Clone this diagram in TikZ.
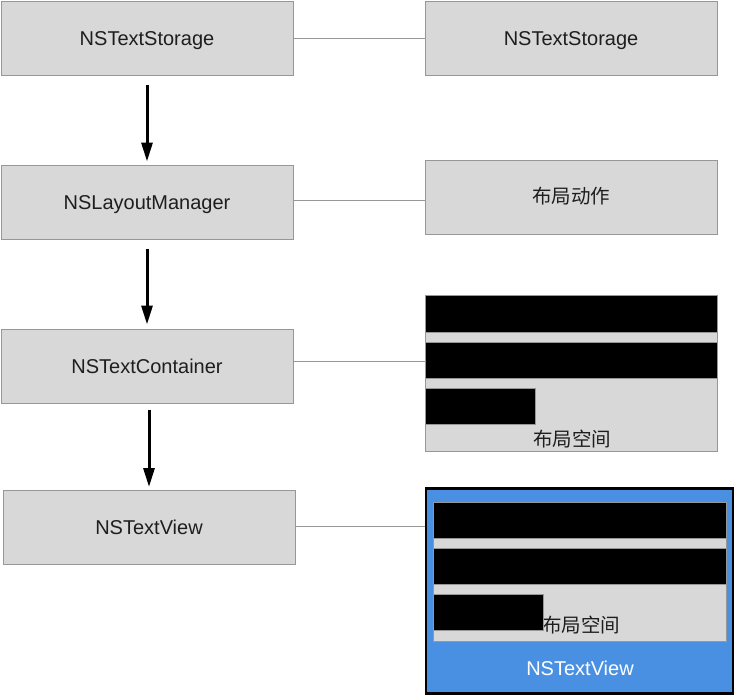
\documentclass[tikz,border=0pt]{standalone}
\usepackage{xcolor}
\usepackage{fontspec}
\setmainfont{Liberation Sans}
\newfontfamily\cjk{Noto Sans CJK SC}
\usepackage{tikz}
\usetikzlibrary{arrows.meta,positioning}

\definecolor{boxgray}{HTML}{D8D8D8}
\definecolor{linegray}{HTML}{979797}
\definecolor{viewblue}{HTML}{4A90E2}
\definecolor{textgray}{HTML}{1E1E1E}

\begin{document}
\begin{tikzpicture}[x=1pt, y=-1pt, >={Triangle[length=19pt,width=11pt]}, semithick,
    box/.style={draw=linegray, fill=boxgray, line width=1pt, minimum width=292pt, minimum height=74pt, inner sep=0pt, text=textgray, text height=14pt, text depth=0pt, font=\fontsize{20}{24}\selectfont},
    cjkbox/.style={box, text height=15pt, text depth=2pt, font=\cjk\fontsize{19.5}{24}\selectfont},
    bar/.style={draw=linegray, fill=black, line width=1pt},
    flow/.style={->, line width=3pt, shorten <=#1},
    link/.style={draw=linegray, line width=1pt}]
      \useasboundingbox (0,0) rectangle (735,697);

      % left column
      \node[box] (s0) at (147,38) {NSTextStorage};
      \node[box] (s1) at (147,202) {NSLayoutManager};
      \node[box] (s2) at (147,366) {NSTextContainer};
      \node[box] (s3) at (149,527.5) {NSTextView};

      % right column
      \node[box] (r0) at (571,38) {NSTextStorage};
      \node[cjkbox] (r1) at (571,197) {布局动作};
      \node[box, minimum height=156pt] (r2) at (571,373) {};
      \node[draw=black, fill=viewblue, line width=2.5pt, minimum width=307pt, minimum height=205pt, inner sep=0pt] (r3) at (579.5,591) {};
      \node[box, minimum width=293pt, minimum height=139pt] (r3in) at (579.5,571.5) {};

      % layout space
      \draw[bar] (425,295) rectangle (717,332);
      \draw[bar] (425,342) rectangle (717,378);
      \draw[bar] (425,388) rectangle (535,424);
      \node[text=textgray, font=\cjk\fontsize{19.5}{24}\selectfont] (sp1) at (572,439) {布局空间};

      % text view
      \draw[bar] (433,502) rectangle (726,538);
      \draw[bar] (433,548) rectangle (726,584);
      \node[text=textgray, font=\cjk\fontsize{19.5}{24}\selectfont] (sp2) at (581,625) {布局空间};
      \draw[bar] (433,594) rectangle (543,630);
      \node[text=white, text height=14pt, text depth=0pt, font=\fontsize{20}{24}\selectfont] (vname) at (580,668) {NSTextView};

      \path
      (s0.south) edge[flow=9pt, shorten >=3pt] (s1.north)
      (s1.south) edge[flow=9pt, shorten >=4pt] (s2.north)
      (s2.south -| s3.north) edge[flow=6pt, shorten >=3pt] (s3.north);

      \draw[link] (s0.east) -- (r0.west);
      \draw[link] ([yshift=2pt]s1.east) -- ([yshift=2pt]s1.east -| r1.west);
      \draw[link] ([yshift=5pt]s2.east) -- ([yshift=5pt]s2.east -| r2.west);
      \draw[link] ([yshift=1pt]s3.east) -- ([yshift=1pt]s3.east -| r3.west);
\end{tikzpicture}
\end{document}
